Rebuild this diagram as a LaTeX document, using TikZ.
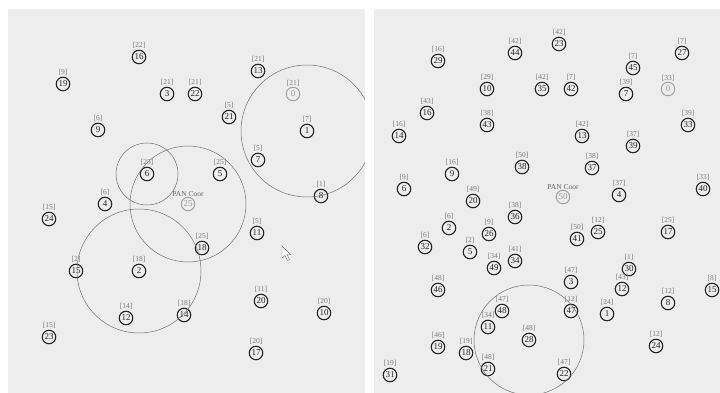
\documentclass[tikz,border=0pt]{standalone}
\usepackage{fontspec}
\setmainfont{Liberation Serif}
\usepackage{tikz}
\definecolor{PanelGray}{HTML}{EDEDED}
\definecolor{RingGray}{HTML}{707070}
\definecolor{NodeInk}{HTML}{262626}
\definecolor{TagGray}{HTML}{7A7A7A}
\definecolor{CoorGray}{HTML}{9C9C9C}
\tikzset{
  dev/.style={circle,draw=NodeInk,line width=1.1pt,inner sep=0pt,minimum size=13.5pt,
    font=\fontsize{9}{9}\selectfont,text=NodeInk,label distance=2pt},
  coor/.style={dev,draw=CoorGray,text=CoorGray,line width=0.9pt},
  tag/.style={font=\fontsize{7.5}{7.5}\selectfont,text=TagGray,inner sep=0.5pt},
  pan/.style={tag,text=black!60},
  ring/.style={draw=RingGray,line width=0.5pt}}

\begin{document}
\begin{tikzpicture}[x=1pt,y=-1pt]
  \useasboundingbox (0,0) rectangle (720,393);
  \fill[PanelGray] (8,9) rectangle (365,393);
  \fill[PanelGray] (374,9) rectangle (720,393);
  \foreach \n/\x/\y/\tg in {16/139/57/22,19/63/84/9,3/167/94/21,22/195/94/21,13/258/71/21,
      21/229/117/5,1/307/131/7,9/98/130/6,6/147/174/25,5/220/174/25,7/258/160/5,8/321/196/1,
      4/105/204/6,24/49/219/15,11/257/233/5,18/202/248/25,15/76/271/2,2/139/271/18,
      20/261/301/11,12/126/318/14,14/184/315/18,10/324/313/20,23/49/337/15,17/256/353/20}
    \node[dev,label={[tag]above:{[\tg]}}] (L\n) at (\x,\y) {\n};
  \node[coor,label={[tag]above:{[21]}}] (L0) at (293,94) {0};
  \node[coor,label={[pan]above:{PAN Coor}}] (L25) at (188,204) {25};
  \begin{scope}
    \clip (8,9) rectangle (365,393);
    \draw[ring] (L1) circle[radius=66pt];
    \draw[ring] (L6) circle[radius=31pt];
    \draw[ring] (L25) circle[radius=58pt];
    \draw[ring] (L2) circle[radius=62pt];
  \end{scope}
  \draw[RingGray,fill=white,line width=0.4pt] (282,246) -- (282,258) -- (285,255.5) -- (287.5,260.5)
    -- (289.5,259.5) -- (287,254.5) -- (290.5,254.5) -- cycle;
  \foreach \n/\x/\y/\tg in {29/438/61/16,44/515/53/42,23/559/44/42,27/682/53/7,45/633/68/7,
      10/487/89/29,35/542/89/42,42/571/89/7,7/626/94/39,16/427/113/43,43/487/125/38,
      14/399/136/16,13/582/136/42,33/688/125/39,39/633/146/37,38/522/167/50,37/592/168/38,
      9/452/174/16,6/404/189/9,4/619/195/37,40/703/189/33,20/473/201/49,36/515/217/38,
      2/449/228/6,26/489/234/9,25/598/232/12,17/668/232/25,41/577/239/50,32/425/247/6,
      5/470/252/2,34/515/261/41,49/494/268/34,30/629/269/1,3/571/282/47,12/622/289/43,
      15/712/290/8,46/438/290/48,8/668/303/12,48/502/311/47,47/571/311/12,1/607/314/24,
      11/488/327/34,28/529/340/48,24/656/346/12,19/438/347/46,18/466/353/19,21/488/369/48,
      22/564/374/47,31/390/375/19}
    \node[dev,label={[tag]above:{[\tg]}}] (R\n) at (\x,\y) {\n};
  \node[coor,label={[tag]above:{[33]}}] (R0) at (668,89) {0};
  \node[coor,label={[pan]above:{PAN Coor}}] (R50) at (563,197) {50};
  \begin{scope}
    \clip (374,9) rectangle (720,393);
    \draw[ring] (R28) circle[radius=55pt];
  \end{scope}
\end{tikzpicture}
\end{document}
